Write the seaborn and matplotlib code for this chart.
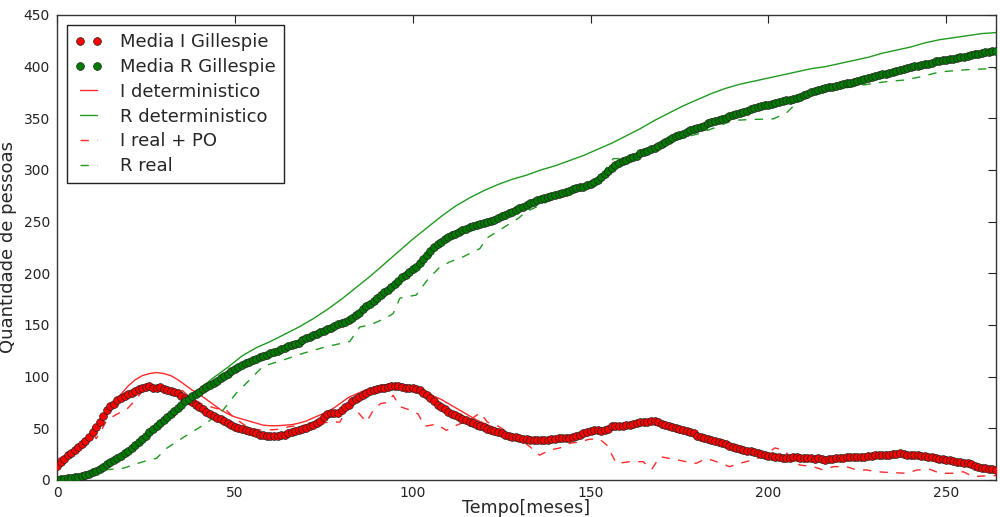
import numpy as np
import pandas as pd
import matplotlib
matplotlib.use("Agg")
import matplotlib.pyplot as plt
import seaborn as sns

# ---------------- data ----------------
months = list(range(0, 265))

gill_I = [14, 17, 20, 24, 26, 29, 32, 35, 38, 42, 46, 51, 56, 62, 68, 72, 74, 77, 79, 81,
          83, 84, 86, 88, 89, 90, 91, 89, 89, 90, 88, 87, 86, 85, 84, 81, 79, 77, 75, 73,
          71, 69, 66, 64, 62, 60, 59, 57, 55, 53, 51, 50, 49, 48, 47, 46, 45, 44, 44, 43,
          43, 43, 43, 44, 44, 45, 46, 47, 48, 49, 50, 52, 53, 55, 57, 61, 64, 65, 65, 65,
          68, 71, 73, 76, 78, 80, 82, 84, 86, 87, 88, 89, 89, 90, 91, 91, 91, 90, 89, 89,
          89, 88, 87, 84, 82, 79, 76, 73, 71, 69, 66, 64, 63, 61, 59, 58, 56, 55, 53, 52,
          51, 49, 48, 47, 46, 45, 44, 43, 42, 42, 41, 40, 40, 39, 39, 39, 39, 39, 39, 40,
          40, 41, 41, 41, 41, 42, 43, 44, 45, 46, 47, 48, 48, 47, 48, 49, 52, 52, 52, 52,
          53, 53, 54, 55, 56, 56, 56, 57, 57, 56, 54, 53, 52, 51, 50, 49, 48, 47, 46, 45,
          43, 42, 41, 40, 39, 38, 37, 36, 35, 33, 32, 31, 30, 29, 28, 28, 27, 26, 25, 24,
          23, 23, 22, 22, 21, 21, 21, 22, 22, 21, 21, 21, 21, 20, 21, 20, 19, 20, 20, 21,
          21, 21, 22, 22, 22, 22, 22, 22, 23, 23, 24, 24, 24, 24, 24, 25, 25, 26, 25, 24,
          24, 24, 24, 23, 23, 22, 22, 21, 20, 20, 19, 19, 18, 17, 17, 16, 16, 15, 14, 13,
          12, 12, 11, 11, 10]

gill_R = [0, 0.5, 1, 1.5, 2, 2.5, 3, 4, 5, 6, 7.5, 9, 11, 13, 15, 17, 19, 21, 23, 26,
          28, 31, 34, 37, 40, 43, 46, 49, 52, 55, 58, 61, 64, 67, 70, 73, 76, 78, 81, 83,
          85, 88, 90, 92, 94, 96, 99, 101, 103, 105, 107, 109, 111, 113, 114, 116, 117, 119, 120, 121,
          123, 124, 125, 127, 128, 130, 131, 132, 133, 135, 137, 138, 140, 141, 143, 144, 146, 147, 149, 151,
          152, 153, 155, 157, 160, 162, 165, 168, 170, 173, 176, 179, 182, 184, 187, 190, 193, 196, 198, 201,
          204, 206, 210, 214, 218, 222, 225, 228, 230, 233, 235, 237, 238, 240, 242, 243, 245, 246, 247, 248,
          249, 250, 251, 252, 254, 255, 256, 258, 259, 261, 263, 264, 266, 268, 269, 271, 272, 273, 274, 275,
          276, 277, 278, 279, 280, 282, 283, 284, 284, 285, 286, 288, 290, 293, 296, 299, 302, 305, 307, 309,
          310, 312, 313, 314, 316, 317, 318, 320, 321, 323, 325, 327, 329, 331, 333, 334, 335, 337, 339, 340,
          341, 342, 343, 345, 346, 347, 348, 349, 350, 352, 353, 354, 355, 356, 357, 359, 360, 361, 362, 363,
          363, 364, 365, 366, 367, 368, 368, 369, 370, 371, 373, 374, 375, 376, 377, 378, 379, 380, 380, 381,
          382, 383, 384, 384, 385, 386, 387, 388, 389, 390, 391, 392, 393, 393, 394, 395, 396, 397, 398, 399,
          400, 401, 401, 402, 403, 403, 404, 405, 405, 406, 406, 407, 407, 408, 409, 409, 410, 411, 412, 412,
          413, 414, 414, 415, 415]

det_t = [0, 4, 8, 10, 12, 14, 16, 18, 20, 22, 24, 26, 28, 30, 32, 34, 36, 38, 40, 42,
         44, 46, 48, 50, 52, 54, 56, 58, 60, 62, 64, 66, 68, 70, 72, 74, 76, 78, 80, 82,
         84, 86, 88, 90, 92, 94, 96, 98, 100, 102, 104, 106, 108, 110, 112, 114, 116, 118, 120, 122,
         124, 126, 128, 130, 132, 134, 136, 138, 140, 142, 144, 146, 148, 150, 152, 154, 156, 158, 160, 162,
         164, 166, 168, 170, 172, 174, 176, 178, 180, 182, 184, 186, 188, 190, 192, 194, 196, 198, 200, 204,
         208, 212, 216, 220, 224, 228, 232, 236, 240, 244, 248, 252, 256, 260, 264]
det_I = [20, 26, 35, 43, 53, 63, 74, 83, 91, 97, 101, 103, 104, 103, 101, 97, 92, 87, 83, 78,
         73, 68, 64, 61, 59, 57, 55, 53, 52.5, 52.5, 53, 53.5, 55, 57, 60, 63, 66, 70, 75, 80,
         83, 86, 88.5, 90.5, 92, 92.5, 92.5, 92, 90, 88, 85, 81, 78, 74, 70, 66, 62, 58, 55, 52,
         49, 46, 44, 42, 41, 40, 39.5, 39.5, 40, 40.5, 41.5, 43, 44.5, 46.5, 48.5, 50, 51.5, 52.5, 53.5, 54,
         54.5, 55, 55, 54.5, 53, 51, 49, 47, 44, 42, 40, 38, 36, 34, 32, 30, 28, 26, 24, 22,
         21, 20.5, 20.5, 21, 21.5, 22.5, 23.5, 24, 24, 23, 21, 18.5, 16, 13, 11]

detR_t = [0, 4, 8, 12, 16, 20, 24, 28, 32, 36, 40, 44, 48, 52, 56, 60, 64, 68, 72, 76,
          80, 84, 88, 92, 96, 100, 104, 108, 112, 116, 120, 124, 128, 132, 136, 140, 144, 148, 152, 156,
          160, 164, 168, 172, 176, 180, 184, 188, 192, 196, 200, 204, 208, 212, 216, 220, 224, 228, 232, 236,
          240, 244, 248, 252, 256, 260, 264]
det_R = [0, 2, 5.5, 11, 18, 27, 37, 49, 62, 76, 88, 99, 109, 120, 128, 134, 141, 148, 156, 165,
         175, 186, 197, 209, 221, 233, 244, 255, 265, 273, 280, 286, 291, 295, 300, 304, 309, 314, 320, 326,
         333, 340, 348, 355, 362, 368, 374, 379, 383, 386, 389, 392, 395, 398, 400, 403, 406, 409, 413, 416,
         419, 423, 426, 428, 430, 432, 433]

realI_t = [0, 4, 8, 10, 11, 12, 14, 17, 19.5, 22, 24, 26, 28, 31, 34.5, 37, 41, 45, 47.5, 49.5,
           54, 58, 62, 65.4, 69, 72, 76.7, 79.5, 82, 84, 87, 89, 91, 93, 94.5, 96.4, 99, 101.5, 103.4, 106.7,
           109.5, 112.3, 116, 119, 121, 123.6, 126.4, 130, 133, 135.7, 138.5, 141.4, 144.2, 147, 149.8, 152.6, 154.5, 157.3, 161, 164.8,
           167.2, 169.5, 173.2, 176.9, 179.7, 182.6, 185.4, 189.1, 191.9, 195.7, 198.5, 201.8, 204.2, 208.8, 212.6, 215.4, 218.2, 222, 224.8, 227.6,
           230.4, 233.2, 238.9, 241.8, 245.4, 248.3, 252, 254.8, 257.6, 260.4, 264.2]
real_I = [15, 25, 38, 46, 40, 45, 58, 64, 68, 77, 86, 92, 90, 88, 89, 81, 73, 69, 68, 61,
          50, 48, 49, 51.6, 53, 54, 56, 56, 71, 68, 56, 68, 74, 75, 82, 71, 68, 64, 52, 54,
          48, 53, 58, 65, 56, 53, 47, 40, 32, 24, 29, 31, 35.5, 37, 39.5, 39.4, 34, 16, 17.7, 17.7,
          10.3, 22.5, 20.3, 17.7, 16.1, 20.9, 17.7, 12.9, 16.1, 19.4, 22.5, 31, 29, 14.5, 12.9, 9.7, 12.9, 12.9, 9.7, 9.7,
          8, 7.4, 6.5, 9.7, 10.3, 6.5, 6.5, 8, 3.2, 3.9, 4.2]

realR_t = [0, 5, 9, 13, 18.6, 24.2, 28, 30.8, 33.6, 37.3, 42, 46.7, 50.4, 54.2, 57.9, 63.5, 69.2, 75.7, 82.3, 85.1,
           88, 92, 94.5, 96.4, 101, 104, 107.6, 110.4, 114.2, 118.9, 120.8, 124.5, 129.6, 132, 136, 140, 144, 147, 150.8, 153,
           155, 156.4, 158, 162, 166, 171.4, 176, 180.7, 185, 190, 196, 201.3, 205, 208.9, 214.5, 219, 223.8, 228, 233.2, 238,
           242.6, 248.3, 255.7, 264.2]
real_R = [0, 1, 3, 9.7, 11.3, 17.7, 21, 30.6, 37, 45, 55, 67.7, 84, 97, 110, 116, 122.6, 129, 134, 148,
          150, 156, 161, 176, 179, 193, 206, 211, 216, 224, 234, 242, 253, 260, 266, 273, 279, 282, 287, 293,
          305, 311, 311, 313, 318, 326, 331, 335.5, 341, 348, 349, 349.4, 355, 368, 376, 378, 380.6, 383, 385.5, 387,
          390, 395, 397, 398.4]

# ---------------- figure ----------------
sns.set_style("white")
plt.rcParams['font.family'] = ['DejaVu Sans']
fig = plt.figure(figsize=(10, 5.17), dpi=100)
ax = fig.add_axes([0.057, 0.0716, 0.939, 0.8994])

mk = dict(marker='o', linestyle='none', markersize=5.6, markeredgecolor='#222222',
          markeredgewidth=0.5, zorder=3)
sns.lineplot(x=months, y=gill_I, ax=ax, color='#ff0000', label='Media I Gillespie',
             sort=False, estimator=None, **mk)
sns.lineplot(x=months, y=gill_R, ax=ax, color='#007a00', label='Media R Gillespie',
             sort=False, estimator=None, **mk)
sns.lineplot(x=det_t, y=det_I, ax=ax, color='#ff2a2a', lw=1.0, label='I deterministico',
             sort=False, estimator=None, zorder=2)
sns.lineplot(x=detR_t, y=det_R, ax=ax, color='#1f9a1f', lw=1.0, label='R deterministico',
             sort=False, estimator=None, zorder=2)
sns.lineplot(x=realI_t, y=real_I, ax=ax, color='#ff2a2a', lw=1.0, dashes=False,
             label='I real + PO', sort=False, estimator=None, zorder=2)
sns.lineplot(x=realR_t, y=real_R, ax=ax, color='#1f9a1f', lw=1.0, dashes=False,
             label='R real', sort=False, estimator=None, zorder=2)
for ln in ax.get_lines()[4:6]:
    ln.set_linestyle((0, (6, 6)))

ax.set_xlim(0, 264)
ax.set_ylim(0, 450)
ax.set_xticks([0, 50, 100, 150, 200, 250])
ax.set_yticks(range(0, 451, 50))
ax.tick_params(direction='in', top=True, right=True, length=6, width=0.8,
               labelsize=10, colors='#222222', labelcolor='#222222', pad=5)
ax.tick_params(axis='x', pad=4)
for s in ax.spines.values():
    s.set_color('#333333')
    s.set_linewidth(1.0)
ax.set_xlabel('Tempo[meses]', fontsize=12.5)
ax.xaxis.set_label_coords(0.5, -0.041)
ax.set_ylabel('Quantidade de pessoas', fontsize=13)
ax.yaxis.set_label_coords(-0.043, 0.5)

handles, labels = ax.get_legend_handles_labels()
for h in handles[4:6]:
    h.set_linestyle((0, (6, 6)))
leg = ax.legend(handles, labels, loc='upper left', fontsize=13, numpoints=2,
                fancybox=False, framealpha=1, edgecolor='#222222', handlelength=1.5,
                handletextpad=1.0, labelspacing=0.38, borderaxespad=0.55, borderpad=0.45)
leg.get_frame().set_linewidth(1.0)

fig.savefig('out.png', dpi=100, facecolor='white')
